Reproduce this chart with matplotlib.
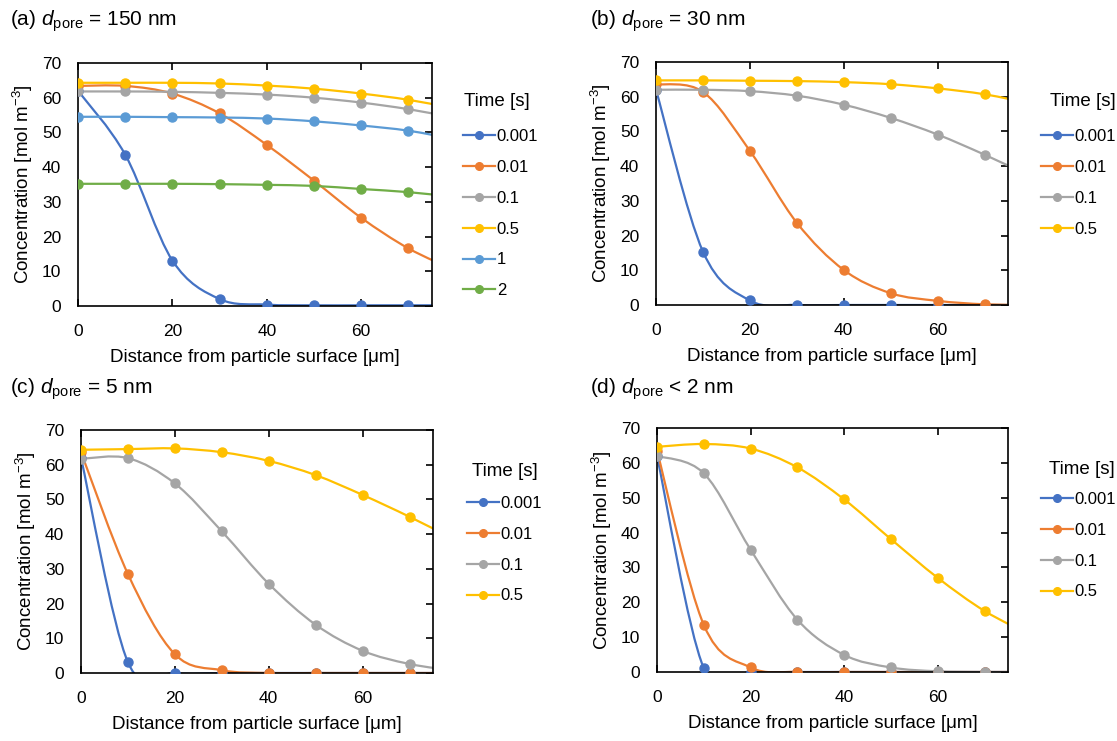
import matplotlib
matplotlib.use("Agg")
import matplotlib.pyplot as plt
from matplotlib.path import Path
from matplotlib.patches import PathPatch
from matplotlib.lines import Line2D
import numpy as np

plt.rcParams['font.family'] = ['Liberation Sans', 'DejaVu Sans']
plt.rcParams['mathtext.fontset'] = 'custom'
plt.rcParams['mathtext.rm'] = 'Liberation Sans'
plt.rcParams['mathtext.it'] = 'Liberation Sans:italic'
plt.rcParams['mathtext.bf'] = 'Liberation Sans:bold'

# ---- data ----
distance = [0, 10, 20, 30, 40, 50, 60, 70, 80]

titles = [r"(a) $\mathit{d}_{\mathrm{pore}}$ = 150 nm",
          r"(b) $\mathit{d}_{\mathrm{pore}}$ = 30 nm",
          r"(c) $\mathit{d}_{\mathrm{pore}}$ = 5 nm",
          r"(d) $\mathit{d}_{\mathrm{pore}}$ < 2 nm"]

labels_a = ["0.001", "0.01", "0.1", "0.5", "1", "2"]
labels_bcd = ["0.001", "0.01", "0.1", "0.5"]

a_0001 = [62.0, 43.6, 13.1, 2.0, 0.4, 0.2, 0.2, 0.2, 0.2]
a_001 = [63.4, 63.4, 61.2, 55.5, 46.4, 36.1, 25.4, 16.6, 10.2]
a_01 = [61.8, 61.8, 61.7, 61.4, 60.9, 60.0, 58.6, 56.7, 54.2]
a_05 = [64.3, 64.3, 64.3, 64.1, 63.5, 62.6, 61.2, 59.4, 56.9]
a_1 = [54.5, 54.5, 54.4, 54.3, 54.0, 53.2, 52.0, 50.5, 48.0]
a_2 = [35.2, 35.2, 35.2, 35.1, 34.9, 34.6, 33.7, 32.8, 31.4]

b_0001 = [62.0, 15.4, 1.3, 0.0, 0.0, 0.0, 0.0, 0.0, 0.0]
b_001 = [63.6, 61.4, 44.4, 23.7, 10.1, 3.4, 1.2, 0.2, 0.0]
b_01 = [62.0, 62.0, 61.6, 60.3, 57.7, 53.9, 49.1, 43.3, 37.0]
b_05 = [64.7, 64.7, 64.6, 64.5, 64.2, 63.6, 62.4, 60.7, 58.0]

c_0001 = [62.0, 3.1, 0.0, 0.0, 0.0, 0.0, 0.0, 0.0, 0.0]
c_001 = [63.6, 28.5, 5.4, 0.8, 0.0, 0.0, 0.0, 0.0, 0.0]
c_01 = [61.7, 61.9, 54.6, 40.8, 25.7, 13.9, 6.4, 2.6, 0.6]
c_05 = [64.3, 64.5, 64.7, 63.6, 61.1, 57.0, 51.3, 45.0, 38.2]

d_0001 = [62.0, 1.1, 0.0, 0.0, 0.0, 0.0, 0.0, 0.0, 0.0]
d_001 = [63.5, 13.5, 1.3, 0.0, 0.0, 0.0, 0.0, 0.0, 0.0]
d_01 = [62.0, 57.0, 35.1, 15.0, 4.9, 1.3, 0.2, 0.0, 0.0]
d_05 = [64.6, 65.4, 64.1, 58.7, 49.5, 38.1, 27.0, 17.5, 10.5]

panels = [
    (labels_a, [a_0001, a_001, a_01, a_05, a_1, a_2]),
    (labels_bcd, [b_0001, b_001, b_01, b_05]),
    (labels_bcd, [c_0001, c_001, c_01, c_05]),
    (labels_bcd, [d_0001, d_001, d_01, d_05]),
]

colors = ["#4472C4", "#ED7D31", "#A5A5A5", "#FFC000", "#5B9BD5", "#70AD47"]

W, H = 1117, 741
fig = plt.figure(figsize=(W / 100, H / 100), dpi=100)

# axes boxes in pixels: left, top, right, bottom
boxes = [(78, 63, 432, 306), (656, 62, 1008, 305),
         (81, 430, 433, 673), (657, 428, 1008, 672)]
title_pos = [(10, 21), (590, 21), (10, 389), (590, 389)]
# legend: handle left x, first entry y, title centre x, title y
legend_pos = [(463, 140, 497, 102), (1041, 140, 1083, 102),
              (467, 507, 505, 472), (1041, 503, 1082, 470)]


def smooth_path(x, y):
    x = np.asarray(x, float)
    y = np.asarray(y, float)
    n = len(x)
    verts = [(x[0], y[0])]
    codes = [Path.MOVETO]
    for i in range(n - 1):
        p0 = np.array([x[max(i - 1, 0)], y[max(i - 1, 0)]])
        p1 = np.array([x[i], y[i]])
        p2 = np.array([x[i + 1], y[i + 1]])
        p3 = np.array([x[min(i + 2, n - 1)], y[min(i + 2, n - 1)]])
        c1 = p1 + (p2 - p0) / 6.0
        c2 = p2 - (p3 - p1) / 6.0
        verts += [tuple(c1), tuple(c2), tuple(p2)]
        codes += [Path.CURVE4] * 3
    return Path(verts, codes)


for k, (labels, series) in enumerate(panels):
    l, t, r, b = boxes[k]
    ax = fig.add_axes([l / W, 1 - b / H, (r - l) / W, (b - t) / H])
    handles = []
    for j, ys in enumerate(series):
        c = colors[j]
        patch = PathPatch(smooth_path(distance, ys), facecolor='none',
                          edgecolor=c, lw=1.6, zorder=2)
        ax.add_patch(patch)
        ax.plot(distance, ys, 'o', color=c, ms=6.5, zorder=3)
        handles.append(Line2D([], [], color=c, lw=1.6, marker='o', ms=5.5))
    ax.set_xlim(0, 75)
    ax.set_ylim(0, 70)
    ax.set_xticks([0, 20, 40, 60])
    ax.set_yticks(range(0, 71, 10))
    ax.tick_params(axis='x', direction='in', top=True, length=5, width=1.2,
                   labelsize=12.5, pad=13)
    ax.tick_params(axis='y', direction='in', right=True, left=False, length=5,
                   width=1.2, labelsize=12.5, pad=12)
    for s in ax.spines.values():
        s.set_linewidth(1.2)
        s.set_color('black')
    ax.set_xlabel("Distance from particle surface [μm]", fontsize=13.5, labelpad=7)
    ax.set_ylabel("Concentration [mol m$^{-3}$]", fontsize=13.5, labelpad=5)
    tx, ty = title_pos[k]
    fig.text(tx / W, 1 - ty / H, titles[k], fontsize=15, ha='left', va='center')
    hx, ey, ttx, tty = legend_pos[k]
    fig.text(ttx / W, 1 - tty / H, "Time [s]", fontsize=13.5,
             ha='center', va='center')
    ax.legend(handles, labels, frameon=False,
              loc='upper left', bbox_to_anchor=(hx / W, 1 - (ey - 11) / H),
              bbox_transform=fig.transFigure, fontsize=12,
              handlelength=1.9, handletextpad=0.12,
              labelspacing=0.95, borderpad=0, borderaxespad=0)

fig.savefig("out.png", dpi=100)
